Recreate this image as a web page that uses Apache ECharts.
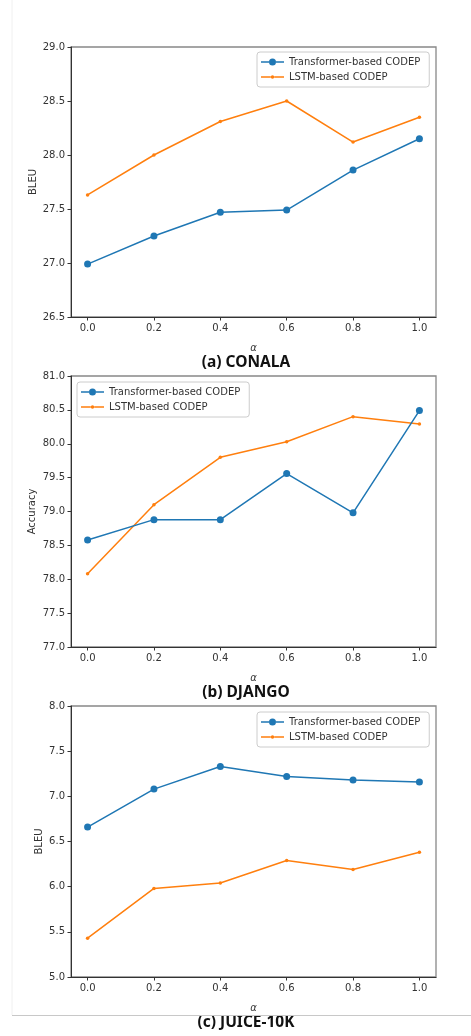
<!DOCTYPE html>
<html>
<head>
<meta charset="utf-8">
<script src="https://cdn.jsdelivr.net/npm/echarts@6/dist/echarts.min.js"></script>
<style>
html,body{margin:0;padding:0;background:#fff;}
#c{width:471px;height:1036px;}
</style>
</head>
<body>
<div id="c"></div>
<script>
// ---- data ----
const alphas = [0.0, 0.2, 0.4, 0.6, 0.8, 1.0];
const seriesNames = ['Transformer-based CODEP', 'LSTM-based CODEP'];
const panelTitles = ['(a) CONALA', '(b) DJANGO', '(c) JUICE-10K'];
const yNames = ['BLEU', 'Accuracy', 'BLEU'];

const conalaTransformer = [26.99, 27.25, 27.47, 27.49, 27.86, 28.15];
const conalaLSTM = [27.63, 28.00, 28.31, 28.50, 28.12, 28.35];
const djangoTransformer = [78.58, 78.88, 78.88, 79.56, 78.98, 80.49];
const djangoLSTM = [78.08, 79.10, 79.80, 80.03, 80.40, 80.29];
const juiceTransformer = [6.66, 7.08, 7.33, 7.22, 7.18, 7.16];
const juiceLSTM = [5.43, 5.98, 6.04, 6.29, 6.19, 6.38];

const yRanges = [[26.5, 29.0], [77.0, 81.0], [5.0, 8.0]];
const yTicks = 0.5;
const xTicks = [0.0, 0.2, 0.4, 0.6, 0.8, 1.0];

// ---- layout ----
const grids = [
  {left: 71, top: 47, width: 365, height: 270},
  {left: 71, top: 376, width: 365, height: 271},
  {left: 71, top: 706, width: 365, height: 271}
];
const legendPos = [{left: 257, top: 52}, {left: 77, top: 382}, {left: 257, top: 712}];
const yNameGaps = [33, 34, 27];
const titleY = [363, 693, 1023];

const BLUE = '#1f77b4', ORANGE = '#ff7f0e';
const FONT = 'DejaVu Sans';
const panelData = [[conalaTransformer, conalaLSTM], [djangoTransformer, djangoLSTM], [juiceTransformer, juiceLSTM]];

// legend icons: line with marker (big dot / small dot)
const ICON_BIG = 'path://M0,2.75L8,2.75L8,4.25L0,4.25Z M15,2.75L23,2.75L23,4.25L15,4.25Z M8,3.5A3.5,3.5 0 1 1 15,3.5A3.5,3.5 0 1 1 8,3.5Z';
const ICON_SMALL = 'path://M0,1L9.75,1L9.75,2.5L0,2.5Z M13.25,1L23,1L23,2.5L13.25,2.5Z M9.75,1.75A1.75,1.75 0 1 1 13.25,1.75A1.75,1.75 0 1 1 9.75,1.75Z';

const toPairs = arr => arr.map((v, i) => [alphas[i], v]);

const option = {
  animation: false,
  backgroundColor: '#fff',
  grid: grids.map(g => Object.assign({show: true, borderColor: '#888', borderWidth: 1.3, backgroundColor: 'transparent'}, g)),
  xAxis: grids.map((g, i) => ({
    type: 'value', gridIndex: i, min: -0.05, max: 1.05,
    name: 'α', nameLocation: 'middle', nameGap: 26, nameMoveOverlap: false,
    nameTextStyle: {fontFamily: FONT, fontSize: 10, fontStyle: 'italic', color: '#333'},
    axisLine: {show: true, onZero: false, lineStyle: {color: '#333', width: 1}},
    axisTick: {show: true, inside: false, length: 3.5, customValues: xTicks, lineStyle: {color: '#333'}},
    axisLabel: {customValues: xTicks, formatter: v => v.toFixed(1), fontFamily: FONT, fontSize: 10, color: '#333', margin: 6},
    splitLine: {show: false}
  })),
  yAxis: grids.map((g, i) => ({
    type: 'value', gridIndex: i, min: yRanges[i][0], max: yRanges[i][1], interval: yTicks,
    name: yNames[i], nameLocation: 'middle', nameGap: yNameGaps[i], nameRotate: 90, nameMoveOverlap: false,
    nameTextStyle: {fontFamily: FONT, fontSize: 10, color: '#333'},
    axisLine: {show: true, onZero: false, lineStyle: {color: '#333', width: 1}},
    axisTick: {show: true, inside: false, length: 3.5, lineStyle: {color: '#333'}},
    axisLabel: {formatter: v => v.toFixed(1), fontFamily: FONT, fontSize: 10, color: '#333', margin: 6},
    splitLine: {show: false}
  })),
  legend: legendPos.map(p => ({
    left: p.left, top: p.top, orient: 'vertical',
    data: [{name: seriesNames[0], icon: ICON_BIG}, {name: seriesNames[1], icon: ICON_SMALL}],
    itemWidth: 23, itemHeight: 10, itemGap: 5,
    padding: [5, 9, 5, 4],
    borderColor: '#ccc', borderWidth: 1, borderRadius: 3,
    backgroundColor: 'rgba(255,255,255,0.8)',
    textStyle: {fontFamily: FONT, fontSize: 10, color: '#333'},
    selectedMode: false
  })),
  series: [],
  graphic: []
};

panelData.forEach((pair, i) => {
  option.series.push({
    name: seriesNames[0], type: 'line', xAxisIndex: i, yAxisIndex: i,
    data: toPairs(pair[0]), symbol: 'circle', symbolSize: 7, showSymbol: true,
    lineStyle: {color: BLUE, width: 1.5}, itemStyle: {color: BLUE}, z: 3
  });
  option.series.push({
    name: seriesNames[1], type: 'line', xAxisIndex: i, yAxisIndex: i,
    data: toPairs(pair[1]), symbol: 'circle', symbolSize: 3.5, showSymbol: true,
    lineStyle: {color: ORANGE, width: 1.5}, itemStyle: {color: ORANGE}, z: 2
  });
  option.graphic.push({
    type: 'text', x: 246, y: titleY[i],
    style: {text: panelTitles[i], font: 'bold 15.5px "Noto Sans"', fill: '#111', textAlign: 'center', textVerticalAlign: 'middle'}
  });
});

// faint page frame lines
option.graphic.push({type: 'line', shape: {x1: 12, y1: 0, x2: 12, y2: 1015}, style: {stroke: '#f0f0f0', lineWidth: 1}});
option.graphic.push({type: 'line', shape: {x1: 12, y1: 1015.5, x2: 471, y2: 1015.5}, style: {stroke: '#c8c8c8', lineWidth: 1}});

const chart = echarts.init(document.getElementById('c'), null, {renderer: 'canvas'});
chart.setOption(option);
</script>
</body>
</html>
